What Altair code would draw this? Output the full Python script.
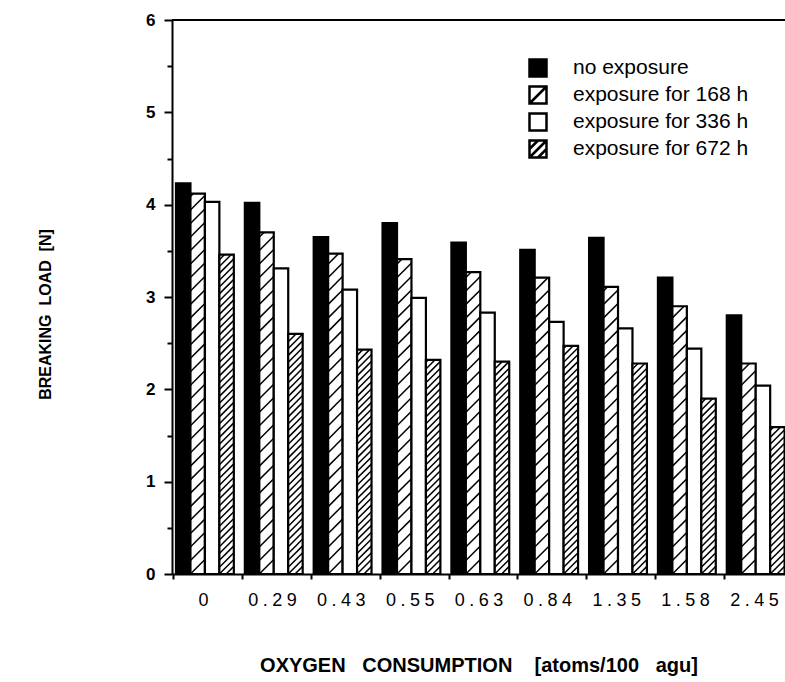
import altair as alt
import pandas as pd

# ---- data ----
groups = ["0", "0.29", "0.43", "0.55", "0.63", "0.84", "1.35", "1.58", "2.45"]
series = ["no exposure", "exposure for 168 h", "exposure for 336 h", "exposure for 672 h"]
no_exposure = [4.23, 4.02, 3.65, 3.80, 3.59, 3.51, 3.64, 3.21, 2.80]
exp_168 = [4.12, 3.70, 3.47, 3.41, 3.27, 3.21, 3.11, 2.90, 2.28]
exp_336 = [4.03, 3.31, 3.08, 2.99, 2.83, 2.73, 2.66, 2.44, 2.04]
exp_672 = [3.46, 2.60, 2.43, 2.32, 2.30, 2.47, 2.28, 1.90, 1.59]
y_ticks = [i * 0.5 for i in range(13)]

rows = []
for si, vals in enumerate([no_exposure, exp_168, exp_336, exp_672]):
    for gi, v in enumerate(vals):
        rows.append({"g": gi, "s": si, "series": series[si], "v": v})
df = pd.DataFrame(rows)
leg_df = pd.DataFrame({"series": series, "li": list(range(len(series)))})
top_df = pd.DataFrame({"top": [6]})

# ---- layout ----
L, T, W, H = 172, 20, 613, 554
STEP = 68.85          # px per group
BW = 0.21             # bar width in group units
D0 = -0.058
D1 = D0 + W / STEP
PX_PER_Y = H / 6.0
DY = BW * STEP / PX_PER_Y  # 45 degree hatch rise in y units
FONT = "Liberation Sans"

xscale = alt.Scale(domain=[D0, D1], nice=False, zero=False)
yscale = alt.Scale(domain=[0, 6], nice=False, zero=True)
fill_scale = alt.Scale(domain=series, range=["black", "white", "white", "white"])

spaced = ["\u2005".join(list(g)) for g in groups]
x_label_expr = "[" + ",".join("'" + s + "'" for s in spaced) + "][round(datum.value)]"

NB = "\u00a0"
x_title = "OXYGEN" + NB * 3 + "CONSUMPTION" + NB * 4 + "[atoms/100" + NB * 3 + "agu]"

xaxis = alt.Axis(
    values=[i - 0.042 for i in range(len(groups))],
    labelExpr=x_label_expr,
    tickSize=5, tickWidth=2, tickColor="black",
    domainWidth=2, domainColor="black",
    labelOffset=30, labelPadding=12,
    labelFont=FONT, labelFontSize=18, labelColor="black", labelFontWeight="normal",
    grid=False,
    title=x_title,
    titleFont=FONT, titleFontSize=20, titleFontWeight="bold", titleColor="black",
    titleY=91, titleBaseline="middle",
)
yaxis = alt.Axis(
    values=y_ticks,
    format=".0f",
    labelExpr="datum.value % 1 === 0 ? datum.label : ''",
    tickSize={"condition": {"test": "datum.value % 1 === 0", "value": 8}, "value": 5},
    tickWidth=2, tickColor="black",
    domainWidth=2, domainColor="black",
    labelPadding=9,
    labelFont=FONT, labelFontSize=17, labelFontWeight="bold", labelColor="black",
    grid=False,
    title="BREAKING" + NB * 2 + "LOAD" + NB * 2 + "[N]",
    titleFont=FONT, titleFontSize=16, titleFontWeight="bold", titleColor="black",
    titleX=-127, titleY=H / 2 + 17, titleBaseline="middle",
)

base = alt.Chart(df).transform_calculate(
    xl=f"datum.g + datum.s * {BW}",
    xr=f"datum.g + datum.s * {BW} + {BW}",
)

bars = base.mark_rect(stroke="black", strokeWidth=2.2).encode(
    x=alt.X("xl:Q", scale=xscale, axis=xaxis),
    x2="xr:Q",
    y=alt.Y("v:Q", scale=yscale, axis=yaxis),
    y2=alt.datum(0),
    fill=alt.Fill("series:N", scale=fill_scale, legend=None),
)

hatch = (
    base.transform_filter("datum.s == 1 || datum.s == 3")
    .transform_calculate(sp="datum.s == 1 ? 0.146 : 0.074")
    .transform_calculate(k=f"sequence(-ceil({DY} / datum.sp), ceil(datum.v / datum.sp) + 1)")
    .transform_flatten(["k"])
    .transform_calculate(y0="datum.k * datum.sp")
    .transform_calculate(ys="max(datum.y0, 0)", ye=f"min(datum.y0 + {DY}, datum.v)")
    .transform_filter("datum.ye > datum.ys")
    .transform_calculate(
        xs=f"datum.xl + (datum.ys - datum.y0) / {DY} * {BW}",
        xe=f"datum.xl + (datum.ye - datum.y0) / {DY} * {BW}",
    )
    .mark_rule(stroke="black", strokeWidth=1.5)
    .encode(
        x=alt.X("xs:Q", scale=xscale),
        x2="xe:Q",
        y=alt.Y("ys:Q", scale=yscale),
        y2="ye:Q",
    )
)

top_line = alt.Chart(top_df).mark_rule(stroke="black", strokeWidth=2).encode(
    y=alt.Y("top:Q", scale=yscale)
)

# ---- legend (drawn as marks, one row per series) ----
sq = "M-1,-1H1V1H-1Z"
p168 = "M-1,-1H1V1H-1Z M-1,1L1,-1"
p672 = "M-1,-1H1V1H-1Z M-1,0L0,-1 M-1,1L1,-1 M0,1L1,0"
shape_scale = alt.Scale(domain=series, range=[sq, p168, sq, p672])
leg_rows_y = [68, 95, 122, 149]

legend_layers = []
for i, ry in enumerate(leg_rows_y):
    src = alt.Chart(leg_df).transform_filter(f"datum.li == {i}")
    legend_layers.append(
        src.mark_point(filled=True, stroke="black", strokeWidth=2.5, size=289, opacity=1).encode(
            x=alt.value(538 - L),
            y=alt.value(ry - T),
            shape=alt.Shape("series:N", scale=shape_scale, legend=None),
            fill=alt.Fill("series:N", scale=fill_scale, legend=None),
        )
    )
    legend_layers.append(
        src.mark_text(
            align="left", baseline="middle", font=FONT, fontSize=21, fontWeight="normal", color="black"
        ).encode(
            x=alt.value(573 - L),
            y=alt.value(ry - T),
            text="series:N",
        )
    )

chart = (
    alt.layer(bars, hatch, top_line, *legend_layers)
    .properties(
        width=W,
        height=H,
        autosize=alt.AutoSizeParams(type="none"),
        padding={"left": L, "top": T, "right": 0, "bottom": 682 - T - H},
        background="white",
    )
    .configure_view(stroke=None)
)

chart.save("out.html", embed_options={"renderer": "svg", "actions": False})
